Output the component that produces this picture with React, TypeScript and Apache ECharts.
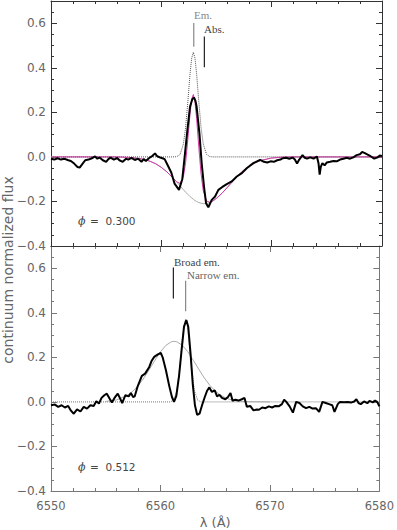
import React, { useEffect, useRef } from "react";
import * as echarts from "echarts";

// ---------- Top panel (phi = 0.300) ----------
const TOP_MODEL_X = [6550, 6552, 6554, 6555, 6556, 6557, 6558, 6558.5, 6559, 6559.5, 6560, 6560.5, 6561, 6561.4, 6561.7, 6562.0, 6562.2, 6562.4, 6562.6, 6562.75, 6562.9, 6563.05, 6563.2, 6563.4, 6563.6, 6563.8, 6564.1, 6564.4, 6564.7, 6565, 6565.5, 6566, 6566.5, 6567, 6567.5, 6568, 6568.5, 6569, 6570, 6571, 6572, 6574, 6576, 6578, 6580];
const TOP_ABS = [0, 0, 0, 0, 0, -0.002, -0.007, -0.012, -0.02, -0.031, -0.047, -0.067, -0.092, -0.113, -0.13, -0.147, -0.158, -0.168, -0.178, -0.184, -0.19, -0.196, -0.2, -0.205, -0.208, -0.21, -0.209, -0.205, -0.197, -0.186, -0.163, -0.136, -0.108, -0.081, -0.058, -0.04, -0.026, -0.016, -0.005, -0.001, 0, 0, 0, 0, 0];
const TOP_EM = [0, 0, 0, 0, 0, 0, 0, 0, 0, 0, 0, 0, 0, 0.001, 0.011, 0.058, 0.132, 0.246, 0.372, 0.443, 0.47, 0.443, 0.372, 0.246, 0.132, 0.058, 0.011, 0.001, 0, 0, 0, 0, 0, 0, 0, 0, 0, 0, 0, 0, 0, 0, 0, 0, 0];
const TOP_FIT = [0, 0, 0, 0, 0, -0.002, -0.007, -0.012, -0.02, -0.031, -0.047, -0.067, -0.092, -0.112, -0.119, -0.089, -0.026, 0.078, 0.194, 0.259, 0.28, 0.247, 0.172, 0.041, -0.076, -0.152, -0.198, -0.204, -0.197, -0.186, -0.163, -0.136, -0.108, -0.081, -0.058, -0.04, -0.026, -0.016, -0.005, -0.001, 0, 0, 0, 0, 0];
const TOP_OBS: [number, number][] = [
  [6550.0, -0.008], [6550.3, -0.012], [6550.6, -0.006], [6550.9, -0.012], [6551.2, -0.008], [6551.5, -0.014], [6551.8, -0.018], [6552.1, -0.03], [6552.4, -0.045], [6552.6, -0.048], [6552.8, -0.035], [6553.1, -0.015], [6553.4, -0.012], [6553.7, -0.006], [6554.0, 0.002], [6554.2, -0.008], [6554.4, -0.003], [6554.7, -0.015], [6555.0, -0.022], [6555.2, -0.01], [6555.4, -0.003], [6555.7, -0.012], [6556.0, -0.005], [6556.2, -0.015], [6556.5, -0.022], [6556.8, -0.008], [6557.0, -0.012], [6557.3, -0.004], [6557.6, -0.014], [6557.9, -0.008], [6558.2, -0.022], [6558.4, -0.01], [6558.6, -0.018], [6558.9, -0.005], [6559.2, 0.005], [6559.43, 0.016], [6559.6, 0.004], [6559.9, -0.003], [6560.1, -0.006], [6560.3, -0.01], [6560.6, -0.04], [6560.9, -0.07], [6561.2, -0.12], [6561.6, -0.148], [6561.9, -0.1], [6562.15, 0.018], [6562.36, 0.12], [6562.6, 0.225], [6562.8, 0.258], [6562.96, 0.267], [6563.1, 0.25], [6563.2, 0.225], [6563.45, 0.107], [6563.66, -0.03], [6563.87, -0.134], [6564.05, -0.208], [6564.26, -0.226], [6564.57, -0.193], [6564.87, -0.178], [6565.17, -0.148], [6565.5, -0.136], [6565.93, -0.122], [6566.38, -0.11], [6566.84, -0.088], [6567.3, -0.073], [6567.74, -0.051], [6568.34, -0.028], [6568.95, -0.013], [6569.3, -0.022], [6569.6, -0.025], [6569.9, -0.02], [6570.2, -0.022], [6570.5, -0.015], [6570.8, -0.012], [6571.0, -0.006], [6571.3, -0.004], [6571.6, -0.008], [6571.9, -0.003], [6572.1, -0.012], [6572.3, -0.03], [6572.5, -0.012], [6572.8, 0.008], [6573.0, -0.004], [6573.2, -0.008], [6573.5, -0.002], [6573.8, -0.008], [6574.1, 0.002], [6574.25, -0.03], [6574.35, -0.08], [6574.45, -0.045], [6574.6, -0.028], [6574.8, -0.038], [6575.0, -0.025], [6575.3, -0.022], [6575.6, -0.018], [6575.9, -0.02], [6576.2, -0.012], [6576.5, -0.008], [6576.8, -0.004], [6577.1, -0.008], [6577.4, -0.002], [6577.7, 0.008], [6578.0, 0.012], [6578.2, 0.022], [6578.4, 0.018], [6578.7, 0.01], [6579.0, 0.002], [6579.3, -0.008], [6579.6, -0.002], [6579.8, 0.006], [6580.0, 0.004],
];

// ---------- Bottom panel (phi = 0.512) ----------
const BOT_BROAD: [number, number][] = [
  [6555, 0.002], [6556, 0.009], [6557, 0.03], [6557.5, 0.049], [6558, 0.075], [6558.5, 0.108], [6559, 0.147], [6559.5, 0.187], [6560, 0.225], [6560.5, 0.254], [6561, 0.27], [6561.25, 0.272], [6561.5, 0.27], [6562, 0.254], [6562.5, 0.225], [6563, 0.187], [6563.5, 0.147], [6564, 0.108], [6564.5, 0.075], [6565, 0.049], [6565.5, 0.03], [6566, 0.017], [6566.5, 0.009], [6567, 0.004], [6568, 0.001], [6570, 0],
];
const BOT_NARROW: [number, number][] = [
  [6550, 0], [6560.9, 0], [6561.2, 0.008], [6561.5, 0.05], [6561.8, 0.17], [6562.0, 0.28], [6562.15, 0.345], [6562.3, 0.37], [6562.45, 0.345], [6562.6, 0.28], [6562.8, 0.17], [6563.1, 0.05], [6563.4, 0.008], [6563.7, 0], [6580, 0],
];
const BOT_OBS: [number, number][] = [
  [6550.0, -0.015], [6550.36, -0.012], [6550.66, -0.022], [6550.97, -0.015], [6551.27, -0.025], [6551.57, -0.018], [6551.8, -0.038], [6552.08, -0.053], [6552.38, -0.034], [6552.69, -0.043], [6552.99, -0.022], [6553.29, -0.03], [6553.6, -0.015], [6553.9, -0.018], [6554.14, 0.003], [6554.38, -0.007], [6554.62, 0.018], [6554.87, 0.03], [6555.1, 0.037], [6555.35, 0.015], [6555.56, -0.003], [6555.8, 0.018], [6556.1, 0.037], [6556.32, 0.015], [6556.5, -0.005], [6556.8, 0.03], [6557.1, 0.025], [6557.3, 0.04], [6557.5, 0.022], [6557.65, 0.025], [6557.9, 0.067], [6558.3, 0.117], [6558.6, 0.127], [6558.98, 0.157], [6559.2, 0.185], [6559.43, 0.202], [6559.73, 0.212], [6560.03, 0.22], [6560.2, 0.2], [6560.5, 0.142], [6560.8, 0.072], [6561.05, 0.022], [6561.24, 0.0], [6561.45, 0.027], [6561.7, 0.117], [6561.94, 0.237], [6562.15, 0.337], [6562.36, 0.368], [6562.54, 0.337], [6562.76, 0.21], [6562.96, 0.075], [6563.15, -0.015], [6563.35, -0.058], [6563.57, -0.053], [6563.8, -0.015], [6564.05, 0.022], [6564.26, 0.05], [6564.47, 0.065], [6564.7, 0.045], [6564.96, 0.052], [6565.17, 0.025], [6565.39, 0.032], [6565.62, 0.018], [6565.93, 0.012], [6566.17, 0.022], [6566.4, 0.04], [6566.59, 0.005], [6566.84, 0.01], [6567.13, 0.006], [6567.43, 0.012], [6567.68, 0.018], [6567.89, -0.022], [6568.2, -0.018], [6568.5, -0.038], [6568.8, -0.034], [6569.0, -0.035], [6569.3, -0.025], [6569.6, -0.028], [6569.9, -0.02], [6570.2, -0.025], [6570.5, -0.018], [6570.8, -0.02], [6571.1, -0.01], [6571.3, 0.01], [6571.5, 0.0], [6571.8, -0.02], [6572.1, -0.048], [6572.4, 0.0], [6572.7, -0.005], [6573.0, -0.02], [6573.3, -0.028], [6573.6, -0.022], [6573.9, -0.03], [6574.2, -0.028], [6574.5, -0.045], [6574.8, 0.0], [6575.1, -0.005], [6575.4, -0.01], [6575.7, -0.015], [6575.9, -0.045], [6576.2, -0.01], [6576.4, 0.0], [6576.8, -0.002], [6577.1, 0.0], [6577.4, -0.003], [6577.7, 0.002], [6577.9, 0.012], [6578.1, -0.005], [6578.3, -0.01], [6578.6, 0.002], [6578.9, -0.006], [6579.1, 0.005], [6579.4, -0.002], [6579.6, 0.006], [6579.8, 0.0], [6580.0, -0.02],
];

// Line-identification markers: [wavelength, lower y, upper y]
const MARK_EM: [number, number, number] = [6562.94, 0.495, 0.601];
const MARK_ABS: [number, number, number] = [6563.9, 0.403, 0.541];
const MARK_BROAD: [number, number, number] = [6561.18, 0.464, 0.604];
const MARK_NARROW: [number, number, number] = [6562.3, 0.407, 0.544];

const PHASES = ["0.300", "0.512"];
const X_MIN = 6550, X_MAX = 6580, X_STEP = 10;
const Y_MIN = -0.4, Y_MAX = 0.7, Y_STEP = 0.2, Y_MINOR = 0.05;

const zip = (xs: number[], ys: number[]) => xs.map((x, i) => [x, ys[i]]);
const seg = (m: [number, number, number]) => [[m[0], m[1]], [m[0], m[2]]];

const yFmt = (v: number) => {
  if (Math.abs(v - Y_MAX) < 1e-6) return "";
  const s = Math.abs(v).toFixed(1);
  return v < -1e-9 ? "\u2212" + s : s;
};

function mkX(grid: number, pos: string, labels: boolean, color: string, z: number) {
  return {
    type: "value", gridIndex: grid, position: pos, min: X_MIN, max: X_MAX, interval: X_STEP, z,
    axisLine: { show: true, onZero: false, lineStyle: { color, width: 1 } },
    axisTick: { show: true, inside: true, length: 6, lineStyle: { color } },
    minorTick: { show: true, splitNumber: 5, length: 3, lineStyle: { color } },
    axisLabel: { show: labels, formatter: (v: number) => String(Math.round(v)), color: "#666", fontSize: 11.5, fontFamily: "DejaVu Sans", margin: 9 },
    splitLine: { show: false }, minorSplitLine: { show: false },
    ...(labels ? { name: "λ (Å)", nameLocation: "middle", nameGap: 25, nameTextStyle: { color: "#666", fontSize: 13, fontFamily: "DejaVu Sans" } } : {}),
  };
}
function mkY(grid: number, pos: string, major: boolean, color: string) {
  return {
    type: "value", gridIndex: grid, position: pos, min: Y_MIN, max: Y_MAX,
    interval: major ? Y_STEP : Y_MINOR,
    axisLine: { show: major, onZero: false, lineStyle: { color, width: 1 } },
    axisTick: { show: true, inside: true, length: major ? 6 : 3, lineStyle: { color } },
    axisLabel: major && pos === "left"
      ? { show: true, formatter: yFmt, showMaxLabel: false, color: "#666", fontSize: 12, fontFamily: "DejaVu Sans", margin: 5 }
      : { show: false },
    splitLine: { show: false },
  };
}

function phaseText(x: number, y: number, val: string) {
  return {
    type: "group", x, y,
    children: [
      { type: "text", x: 0, y: 0, style: { text: "ϕ", fill: "#444", font: "italic 11px 'DejaVu Serif'", verticalAlign: "middle" } },
      { type: "text", x: 12, y: 0, style: { text: "=  " + val, fill: "#444", font: "10.5px 'DejaVu Sans'", verticalAlign: "middle" } },
    ],
  };
}

export default function App() {
  const ref = useRef<HTMLDivElement>(null);
  useEffect(() => {
    if (!ref.current) return;
    const chart = echarts.init(ref.current, null, { renderer: "svg" });
    const topC = "#333", botC = "#777";
    const line = (xi: number, yi: number, data: any, color: string, width: number, z: number, type = "solid") => ({
      type: "line", xAxisIndex: xi, yAxisIndex: yi, data, showSymbol: false, symbol: "none", z,
      lineStyle: { color, width, type }, silent: true,
    });
    chart.setOption({
      animation: false,
      grid: [
        { left: 51, right: 15, top: 1, height: 245 },
        { left: 51, right: 15, top: 246, height: 245 },
      ],
      xAxis: [
        mkX(0, "bottom", false, topC, 5),
        mkX(0, "top", false, topC, 5),
        mkX(1, "bottom", true, botC, 1),
        mkX(1, "top", false, botC, 1),
      ],
      yAxis: [
        mkY(0, "left", true, topC), mkY(0, "left", false, topC),
        mkY(0, "right", true, topC), mkY(0, "right", false, topC),
        mkY(1, "left", true, botC), mkY(1, "left", false, botC),
        mkY(1, "right", true, botC), mkY(1, "right", false, botC),
      ],
      series: [
        line(0, 0, zip(TOP_MODEL_X, TOP_ABS), "#aaaaaa", 1, 1),
        line(0, 0, zip(TOP_MODEL_X, TOP_EM), "#555555", 1, 2, "dotted"),
        line(0, 0, zip(TOP_MODEL_X, TOP_FIT), "#d43aa8", 1, 3),
        line(0, 0, TOP_OBS, "#000000", 2, 4),
        line(0, 0, seg(MARK_EM), "#888888", 1.2, 4),
        line(0, 0, seg(MARK_ABS), "#222222", 1.2, 4),
        line(2, 4, BOT_NARROW, "#777777", 1, 1, "dotted"),
        line(2, 4, BOT_BROAD, "#aaaaaa", 1, 2),
        line(2, 4, BOT_OBS, "#000000", 2, 4),
        line(2, 4, seg(MARK_BROAD), "#222222", 1.2, 4),
        line(2, 4, seg(MARK_NARROW), "#888888", 1.2, 4),
      ],
      graphic: [
        { type: "text", x: 194, y: 15, style: { text: "Em.", fill: "#888", font: "11px 'Liberation Serif'", verticalAlign: "middle" } },
        { type: "text", x: 204, y: 29, style: { text: "Abs.", fill: "#444", font: "11px 'Liberation Serif'", verticalAlign: "middle" } },
        { type: "text", x: 174, y: 262, style: { text: "Broad em.", fill: "#444", font: "11px 'Liberation Serif'", verticalAlign: "middle" } },
        { type: "text", x: 187, y: 275, style: { text: "Narrow em.", fill: "#666", font: "11px 'Liberation Serif'", verticalAlign: "middle" } },
        phaseText(78, 221, PHASES[0]),
        phaseText(78, 467, PHASES[1]),
        { type: "text", x: 8, y: 270, rotation: Math.PI / 2, style: { text: "continuum normalized flux", fill: "#666", font: "14px 'DejaVu Sans'", align: "center", verticalAlign: "middle" } },
      ],
    });
    return () => chart.dispose();
  }, []);
  return <div ref={ref} style={{ width: 397, height: 530, position: "absolute", left: 0, top: 0 }} />;
}
